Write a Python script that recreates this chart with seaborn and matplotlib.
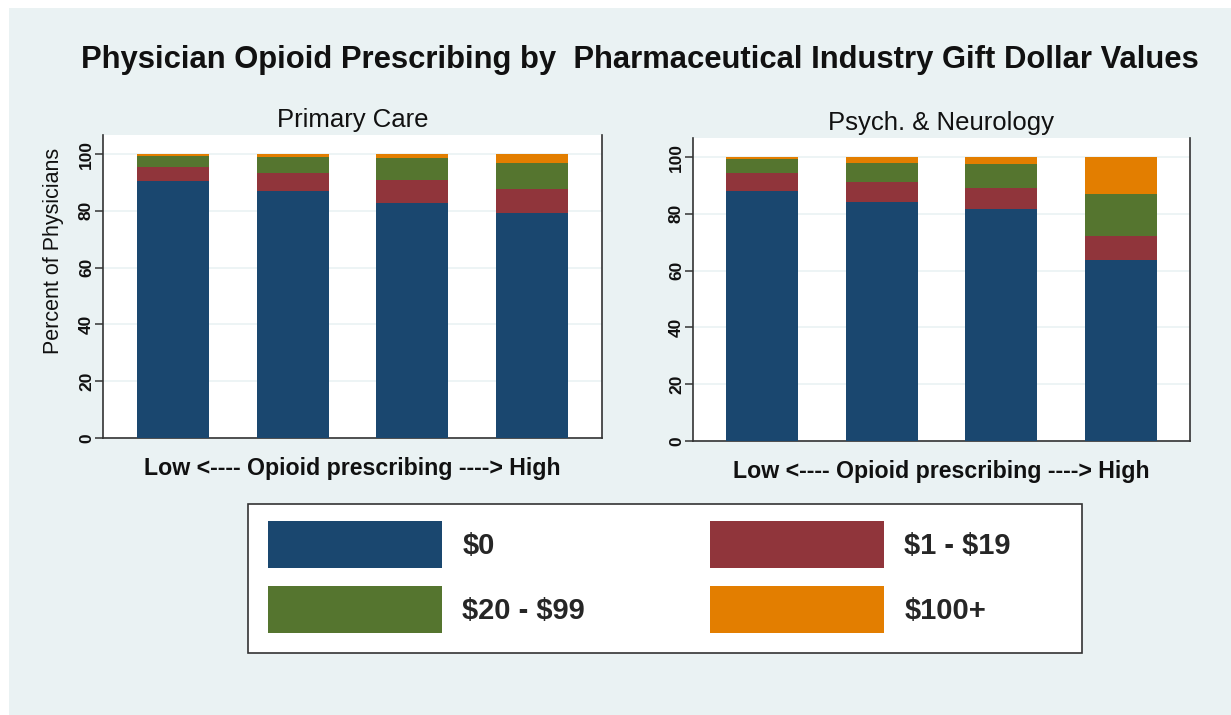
import pandas as pd
import numpy as np
import seaborn as sns
import matplotlib.pyplot as plt
from matplotlib.patches import Patch, Rectangle

# Data (percent of physicians per gift category, by opioid prescribing level)
levels = ['Q1', 'Q2', 'Q3', 'Q4']
gift_cats = ['$0', '$1 - $19', '$20 - $99', '$100+']

primary_0 = [90.6, 86.9, 82.6, 79.1]
primary_1_19 = [4.8, 6.5, 8.2, 8.5]
primary_20_99 = [3.8, 5.7, 7.8, 9.3]
primary_100 = [0.8, 0.9, 1.4, 3.1]

psych_0 = [88.0, 84.3, 81.6, 63.8]
psych_1_19 = [6.5, 6.9, 7.5, 8.3]
psych_20_99 = [4.7, 6.7, 8.6, 15.0]
psych_100 = [0.8, 2.1, 2.3, 12.9]

panel_titles = ['Primary Care', 'Psych. & Neurology']
xlab = 'Low <---- Opioid prescribing ----> High'
ylab = 'Percent of Physicians'
title = 'Physician Opioid Prescribing by  Pharmaceutical Industry Gift Dollar Values'

# Stata s2color-ish colours
colors = {'$0': '#1a476f', '$1 - $19': '#90353b', '$20 - $99': '#55752f', '$100+': '#e37e00'}
bg = '#eaf2f3'

sns.set_style('white')
plt.rcParams['font.family'] = ['Liberation Sans', 'DejaVu Sans']


def make_df(a, b, c, d):
    df = pd.DataFrame({'level': levels, '$0': a, '$1 - $19': b, '$20 - $99': c, '$100+': d})
    # cumulative tops for stacking
    df[gift_cats] = df[gift_cats].cumsum(axis=1)
    return df


panels = [make_df(primary_0, primary_1_19, primary_20_99, primary_100),
          make_df(psych_0, psych_1_19, psych_20_99, psych_100)]

W, H = 1231, 715
fig = plt.figure(figsize=(W / 100, H / 100), dpi=100, facecolor='white')
fig.patches.append(Rectangle((9 / W, 0), 1, 1 - 8 / H, transform=fig.transFigure,
                             facecolor=bg, edgecolor='none', zorder=-10))

ax_boxes = [(103, 602, 135, 438), (693, 1190, 138, 441)]

for i, df in enumerate(panels):
    x0, x1, t, b = ax_boxes[i]
    ax = fig.add_axes([x0 / W, 1 - b / H, (x1 - x0) / W, (b - t) / H])
    ax.set_facecolor('white')
    # draw from the tallest cumulative down so each segment shows
    for cat in gift_cats[::-1]:
        sns.barplot(data=df, x='level', y=cat, order=levels, color=colors[cat],
                    width=0.6, saturation=1, linewidth=0, errorbar=None, ax=ax, zorder=3)
    ax.set_xlim(-0.58, 3.58)
    ax.set_ylim(0, 106.7)
    ax.set_yticks([0, 20, 40, 60, 80, 100])
    ax.yaxis.grid(True, color='#eaf2f3', linewidth=1.2, zorder=0)
    ax.xaxis.grid(False)
    ax.set_xticks([])
    ax.tick_params(axis='y', direction='out', length=6, width=1.1, color='#333333',
                   labelsize=12.5, pad=0.5, left=True)
    for lab in ax.get_yticklabels():
        lab.set_rotation(90)
        lab.set_va('center')
        lab.set_fontweight('bold')
        lab.set_color('#111111')
    for s in ['left', 'bottom', 'right']:
        ax.spines[s].set_visible(True)
        ax.spines[s].set_color('#333333')
        ax.spines[s].set_linewidth(1.2)
    ax.spines['top'].set_visible(False)
    ax.set_xlabel(xlab, fontsize=16.7, fontweight='bold', labelpad=14, color='#111111')
    if i == 0:
        ax.set_ylabel(ylab, fontsize=15.5, color='#111111')
        ax.yaxis.set_label_coords(-39 / (x1 - x0), (b - 251) / (b - t))
    else:
        ax.set_ylabel('')
    ax.set_title(panel_titles[i], fontsize=18.5, pad=6, color='#111111')

fig.text(640 / W, 1 - 60 / H, title, ha='center', va='center', fontsize=22.3,
         fontweight='bold', color='#111111')

# Legend box and entries
fig.patches.append(Rectangle((248 / W, 1 - 653 / H), 834 / W, 149 / H, transform=fig.transFigure,
                             facecolor='white', edgecolor='#333333', linewidth=1.2, zorder=1))
order = ['$0', '$20 - $99', '$1 - $19', '$100+']
handles = [Patch(facecolor=colors[c], edgecolor='none') for c in order]
labels = [c.replace('$', r'\$') for c in order]
leg = fig.legend(handles, labels, ncol=2, loc='upper left', bbox_to_anchor=(268 / W, 1 - 521 / H),
                 frameon=False, borderpad=0, borderaxespad=0, handlelength=5.97, handleheight=2.1,
                 handletextpad=0.69, labelspacing=0.62, columnspacing=4.29,
                 prop={'size': 21, 'weight': 'bold'})
leg.set_zorder(2)

plt.savefig('out.png', dpi=100, facecolor=fig.get_facecolor())
